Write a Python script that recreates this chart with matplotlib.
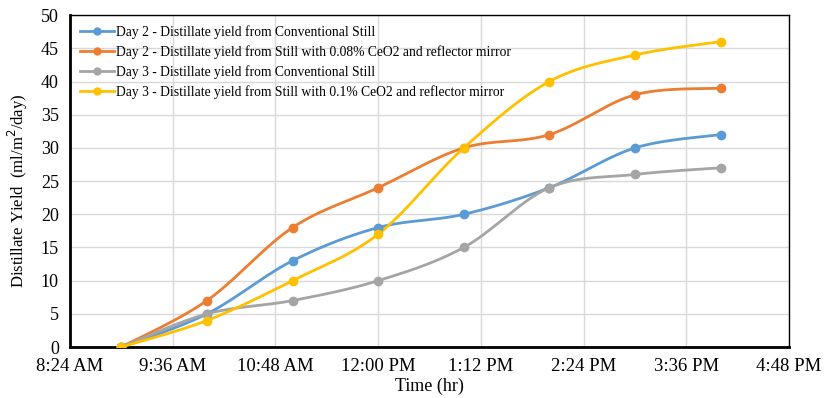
import numpy as np
import matplotlib
matplotlib.use('Agg')
import matplotlib.pyplot as plt
import matplotlib.dates as mdates
from datetime import datetime, timedelta

# Data (hourly readings, 9 AM to 4 PM)
hours = [9, 10, 11, 12, 13, 14, 15, 16]
day2_conv = [0, 5, 13, 18, 20, 24, 30, 32]
day2_ceo2 = [0, 7, 18, 24, 30, 32, 38, 39]
day3_conv = [0, 5, 7, 10, 15, 24, 26, 27]
day3_ceo2 = [0, 4, 10, 17, 30, 40, 44, 46]

labels = [
    'Day 2 - Distillate yield from Conventional Still',
    'Day 2 - Distillate yield from Still with 0.08% CeO2 and reflector mirror',
    'Day 3 - Distillate yield from Conventional Still',
    'Day 3 - Distillate yield from Still with 0.1% CeO2 and reflector mirror',
]
colors = ['#5B9BD5', '#ED7D31', '#A5A5A5', '#FFC000']

plt.rcParams['font.family'] = ['Liberation Serif', 'DejaVu Serif']


def smooth(x, y, n=30):
    # Catmull-Rom curve through the points (like Excel's smoothed line)
    x = np.asarray(x, float)
    y = np.asarray(y, float)
    px = np.concatenate([[x[0]], x, [x[-1]]])
    py = np.concatenate([[y[0]], y, [y[-1]]])
    xs, ys = [], []
    t = np.linspace(0, 1, n)
    for i in range(1, len(px) - 2):
        b = [(px[i], py[i]),
             (px[i] + (px[i + 1] - px[i - 1]) / 6, py[i] + (py[i + 1] - py[i - 1]) / 6),
             (px[i + 1] - (px[i + 2] - px[i]) / 6, py[i + 1] - (py[i + 2] - py[i]) / 6),
             (px[i + 1], py[i + 1])]
        for k in range(2):
            c = ((1 - t) ** 3 * b[0][k] + 3 * (1 - t) ** 2 * t * b[1][k]
                 + 3 * (1 - t) * t ** 2 * b[2][k] + t ** 3 * b[3][k])
            (xs if k == 0 else ys).append(c)
    return np.concatenate(xs), np.concatenate(ys)


day = datetime(2020, 1, 1)
times = [day + timedelta(hours=h) for h in hours]
tnum = mdates.date2num(times)

fig = plt.figure(figsize=(8.27, 3.98), dpi=100)
ax = fig.add_axes([0.0846, 0.128, 0.8695, 0.834])

series = [day2_conv, day2_ceo2, day3_conv, day3_ceo2]
for vals, col, lab in zip(series, colors, labels):
    sx, sy = smooth(tnum, vals)
    ax.plot(sx, sy, color=col, lw=2, zorder=3)
    ax.plot(tnum, vals, 'o', color=col, ms=6, zorder=4)
    ax.plot([], [], '-o', color=col, lw=2, ms=5, label=lab)

start = day + timedelta(hours=8, minutes=24)
ticks = [start + timedelta(minutes=72 * k) for k in range(8)]
ax.set_xlim(mdates.date2num(ticks[0]), mdates.date2num(ticks[-1]))
ax.set_xticks(mdates.date2num(ticks))
ax.xaxis.set_major_formatter(mdates.DateFormatter('%-I:%M %p'))
ax.set_ylim(0, 50)
ax.set_yticks(range(0, 51, 5))

ax.grid(True, color='#d9d9d9', lw=1)
ax.set_axisbelow(True)
ax.tick_params(axis='x', length=0, labelsize=13.5, pad=8)
ax.tick_params(axis='y', length=0, labelsize=13, pad=8)
for s in ax.spines.values():
    s.set_color('black')
    s.set_linewidth(1)
ax.spines['left'].set_linewidth(2)
ax.spines['bottom'].set_linewidth(2)

ax.set_xlabel('Time (hr)', fontsize=13, labelpad=2)
ax.set_ylabel('Distillate Yield  (ml/m$^2$/day)', fontsize=12)
ax.yaxis.set_label_coords(-0.055, 0.47)

ax.legend(loc='upper left', frameon=False, fontsize=9.8, handlelength=2.5,
          borderaxespad=0.35, labelspacing=0.45, handletextpad=0.15)

plt.savefig('out.png', dpi=100)
